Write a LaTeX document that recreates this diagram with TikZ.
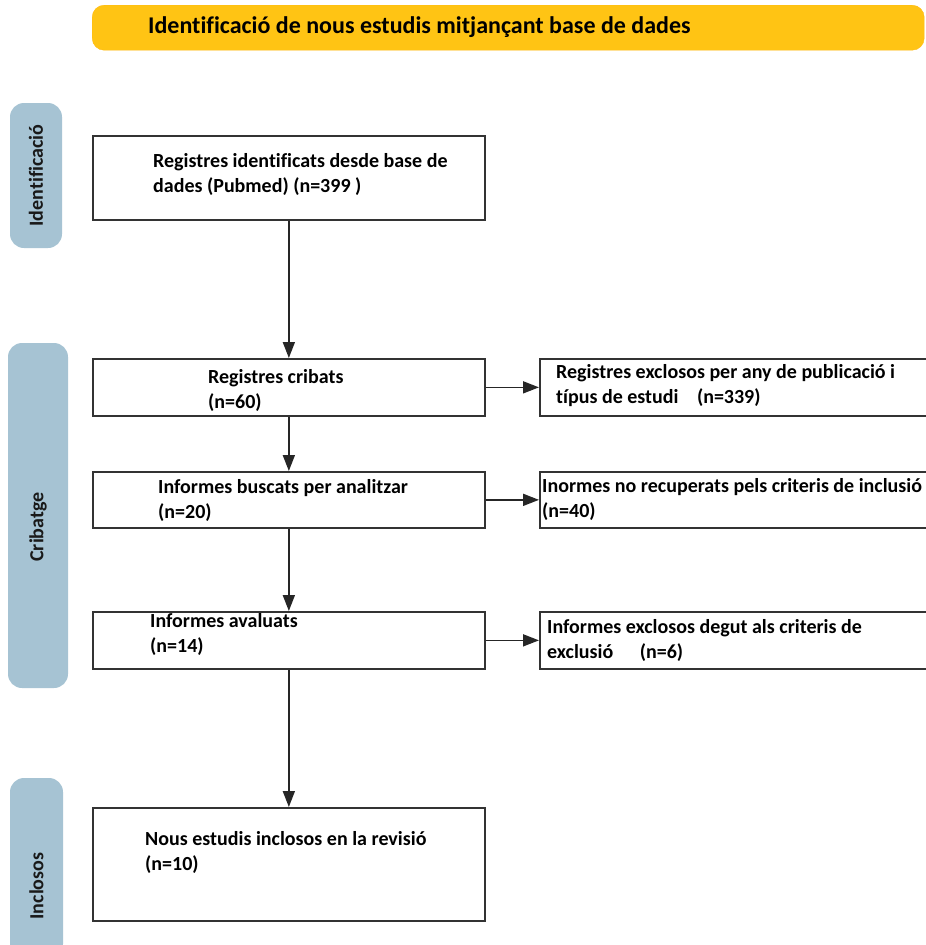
\documentclass[tikz,border=0pt]{standalone}
\usepackage{fontspec}
\setmainfont{Carlito}[Ligatures=NoCommon]
\usetikzlibrary{arrows.meta}
\definecolor{bannerfill}{RGB}{255,196,20}
\definecolor{stagefill}{RGB}{166,195,211}

\begin{document}
\begin{tikzpicture}
  [
    x                 = 1pt,
    y                 = -1pt,
    banner/.style     = {fill=bannerfill, draw=bannerfill!85!orange, rounded corners=12pt,
                         anchor=north west, inner sep=0pt},
    stage/.style      = {fill=stagefill, rounded corners=14pt, inner sep=0pt},
    stagetext/.style  = {rotate=90, inner sep=0pt, text=black!90,
                         font=\bfseries\fontsize{20}{24}\selectfont},
    box/.style        = {draw=black!80, line width=1.7pt, fill=white, anchor=north west,
                         inner sep=0pt},
    boxtext/.style    = {anchor=west, align=left, inner sep=0pt,
                         font=\bfseries\fontsize{20}{25}\selectfont},
    flow/.style       = {draw=black!85, line width=1.7pt, -{Triangle[length=16pt, width=12pt]}}
  ]
  \useasboundingbox (0,0) rectangle (926,945);
  \clip (0,0) rectangle (926,945);

  \node[banner, minimum width=832pt, minimum height=45pt] (head) at (92,5) {};
  \node[anchor=west, inner sep=0pt, font=\bfseries\fontsize{24}{28}\selectfont]
    (head-t) at (148,27) {Identificació de nous estudis mitjançant base de dades};

  \node[stage, minimum width=52pt, minimum height=145pt] (st-id) at (36,175.5) {};
  \node[stagetext] (st-id-t) at (st-id) {Identificació};
  \node[stage, minimum width=60pt, minimum height=345pt] (st-crib) at (38,515.5) {};
  \node[stagetext] (st-crib-t) at (38,527) {Cribatge};
  \node[stage, minimum width=53pt, minimum height=180pt] (st-incl) at (36.5,868) {};
  \node[stagetext] (st-incl-t) at (36.5,886) {Inclosos};

  \node[box, minimum width=392pt, minimum height=84pt]  (reg-id)    at (92,135) {};
  \node[box, minimum width=392pt, minimum height=57pt]  (reg-crib)  at (92,358) {};
  \node[box, minimum width=392pt, minimum height=56pt]  (inf-busc)  at (92,471) {};
  \node[box, minimum width=392pt, minimum height=57pt]  (inf-aval)  at (92,611) {};
  \node[box, minimum width=392pt, minimum height=113pt] (nous-incl) at (92,807) {};
  \node[box, minimum width=400pt, minimum height=57pt]  (excl-any)  at (539,358) {};
  \node[box, minimum width=400pt, minimum height=56pt]  (no-recup)  at (539,471) {};
  \node[box, minimum width=400pt, minimum height=57pt]  (excl-crit) at (539,611) {};

  \node[boxtext] (reg-id-t)    at (153,174) {Registres identificats desde base de\\dades (Pubmed) (n=399 )};
  \node[boxtext] (reg-crib-t)  at (208,390) {Registres cribats\\(n=60)};
  \node[boxtext] (inf-busc-t)  at (158,500) {Informes buscats per analitzar\\(n=20)};
  \node[boxtext] (inf-aval-t)  at (150,634) {Informes avaluats\\(n=14)};
  \node[boxtext] (nous-incl-t) at (145,852) {Nous estudis inclosos en la revisió\\(n=10)};
  \node[boxtext] (excl-any-t)  at (556,385.5) {Registres exclosos per any de publicació i\\típus de estudi\hspace{14pt} (n=339)};
  \node[boxtext] (no-recup-t)  at (542,499.5) {Inormes no recuperats pels criteris de inclusió\\(n=40)};
  \node[boxtext] (excl-crit-t) at (547,640) {Informes exclosos degut als criteris de\\exclusió\hspace{22pt} (n=6)};

  \draw[flow] (reg-id) -- (reg-crib);
  \draw[flow] (reg-crib) -- (inf-busc);
  \draw[flow] (inf-busc) -- (inf-aval);
  \draw[flow] (inf-aval) -- (nous-incl);
  \draw[flow] (reg-crib.east) -- (excl-any.west);
  \draw[flow] (inf-busc.east) -- (no-recup.west);
  \draw[flow] (inf-aval.east) -- (excl-crit.west);
\end{tikzpicture}
\end{document}
